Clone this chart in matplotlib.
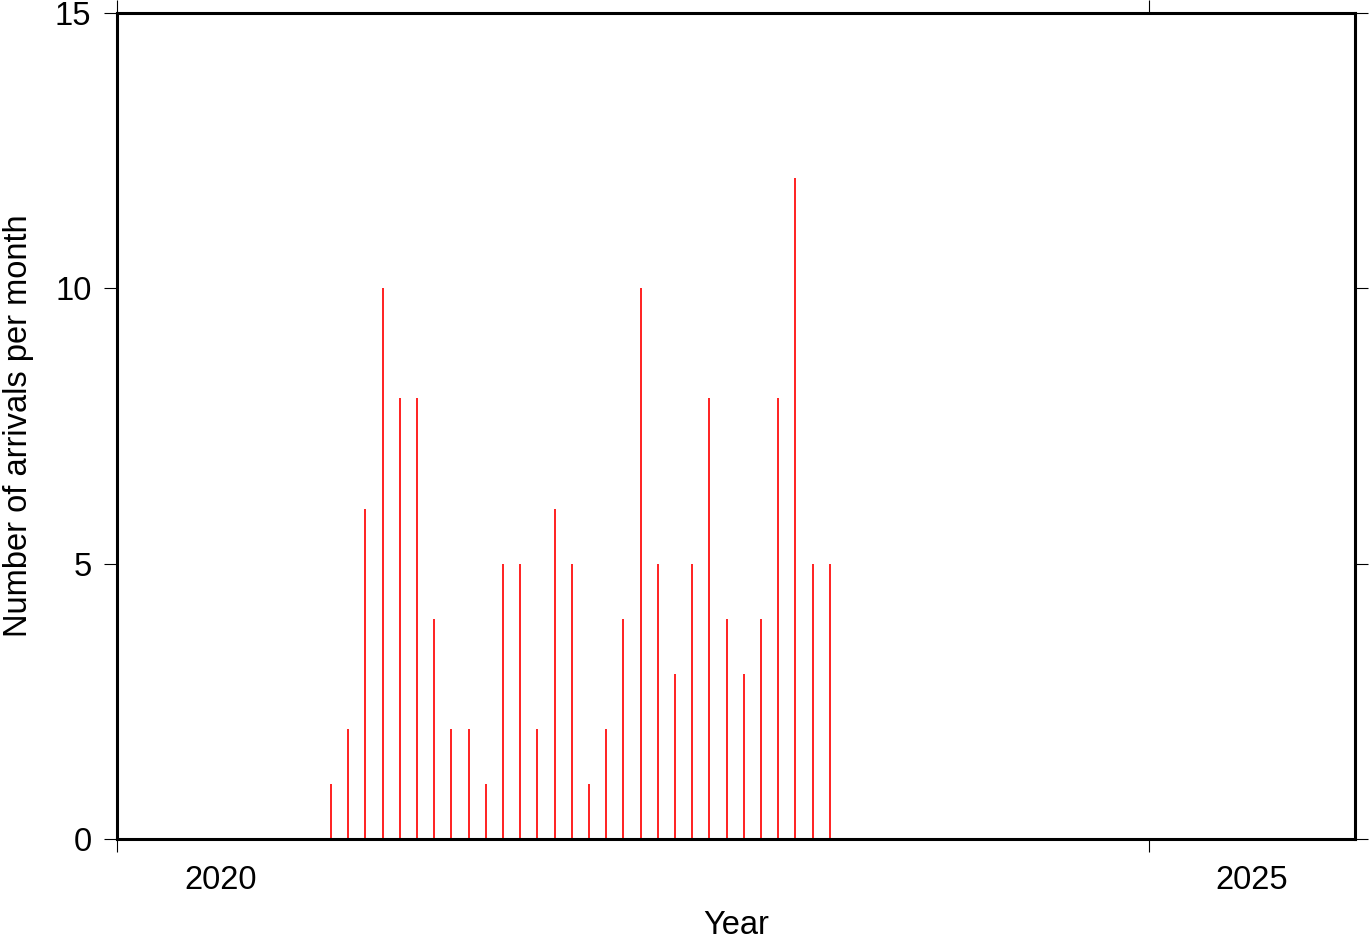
import numpy as np
import matplotlib
matplotlib.use('Agg')
import matplotlib.pyplot as plt
from matplotlib.ticker import FixedLocator, NullFormatter, FixedFormatter

plt.rcParams['font.family'] = ['Liberation Sans', 'DejaVu Sans']

# monthly arrival counts, Jan 2021 .. Jun 2023
start_year = 2021
counts = [1, 2, 6, 10, 8, 8, 4, 2, 2, 1, 5, 5, 2, 6, 5, 1, 2, 4,
          10, 5, 3, 5, 8, 4, 3, 4, 8, 12, 5, 5]
year_ticks = [2020, 2025]
year_labels = ['2020', '2025']
y_ticks = [0, 5, 10, 15]

months = np.arange(len(counts))
xpos = start_year + (months + 0.45) / 12.0

fig = plt.figure(figsize=(13.69, 9.42), dpi=100)
ax = fig.add_axes([117/1369, 103/942, 1238/1369, 826/942])

ax.vlines(xpos, 0, counts, colors='#ff2020', linewidth=1.4)

ax.set_xlim(2020, 2026)
ax.set_ylim(0, 15)

fs = 23.5
ax.xaxis.set_major_locator(FixedLocator(year_ticks))
ax.xaxis.set_major_formatter(NullFormatter())
ax.xaxis.set_minor_locator(FixedLocator([y + 0.5 for y in year_ticks]))
ax.xaxis.set_minor_formatter(FixedFormatter(year_labels))
ax.tick_params(axis='x', which='major', direction='out', length=9.4, width=0.8,
               top=True, bottom=True)
ax.tick_params(axis='x', which='minor', length=0, pad=19, labelsize=fs)

ax.set_yticks(y_ticks)
ax.tick_params(axis='y', which='major', direction='out', length=9.4, width=0.8,
               left=True, right=True, labelsize=fs, pad=9)

for s in ax.spines.values():
    s.set_linewidth(2.2)

ax.set_xlabel('Year', fontsize=fs, labelpad=10)
ax.set_ylabel('Number of arrivals per month', fontsize=fs, labelpad=15)

fig.savefig('out.png', dpi=100)
